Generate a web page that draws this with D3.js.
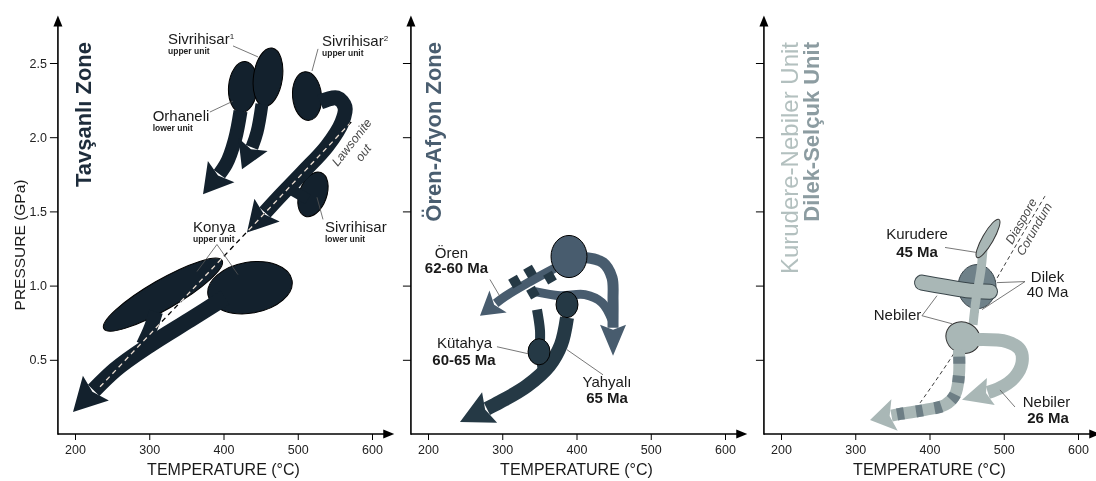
<!DOCTYPE html>
<html>
<head>
<meta charset="utf-8">
<title>P-T paths</title>
<script src="https://d3js.org/d3.v7.min.js"></script>
<style>
  html, body { margin:0; padding:0; background:#fff; }
  svg { display:block; font-family: "Liberation Sans", Arial, sans-serif; }
</style>
</head>
<body>
<svg id="chart"></svg>
<script>
var W = 1096, H = 481;

// axes
var tempTicks = [200, 300, 400, 500, 600];
var pressTicks = [0.5, 1.0, 1.5, 2.0, 2.5];
var tempMin = 177, tempMax = 630, pressMax = 2.82;
var titleTexts = ["Tavşanlı Zone", "Ören-Afyon Zone", "Kurudere-Nebiler Unit", "Dilek-Selçuk Unit"];

// P-T bodies: [key, T (°C), P (GPa), half-width (°C), half-height (GPa), tilt]
var tavsanliBodies = [
  ["orhaneli", 426.3, 2.338, 19.5, 0.172, 5],
  ["sivri1", 459.9, 2.405, 19.5, 0.198, 8],
  ["sivri2", 512.5, 2.277, 19.5, 0.164, -5],
  ["sivriLow", 520.5, 1.615, 18.5, 0.157, 20],
  ["konyaA", 318.5, 0.939, 92.0, 0.100, -30],
  ["konyaB", 435.7, 0.986, 57.5, 0.172, -10]
];
var orenBodies = [
  ["oren", 389.9, 1.196, 24.2, 0.142, 0],
  ["yahyali", 387.2, 0.872, 14.8, 0.088, 0],
  ["kutahya", 349.5, 0.554, 14.8, 0.088, 0]
];
var kurudereBodies = [
  ["dilek", 464.0, 0.993, 25.6, 0.149, 0],
  ["nebilerLow", 445.1, 0.649, 23.5, 0.104, 25],
  ["kurudere", 478.8, 1.318, 29.6, 0.037, -60]
];

// P-T paths: [key, [[T, P], ...]]
var tavsanliPaths = [
  ["orhaneliPath", [[422.9, 2.176], [415.5, 1.986], [403.4, 1.818], [372.4, 1.615]]],
  ["sivri1Path", [[451.8, 2.223], [445.1, 2.034], [435.7, 1.899], [424.9, 1.784]]],
  ["sivri2Path", [[530.0, 2.236], [552.9, 2.264], [563.6, 2.203], [559.6, 2.101], [539.4, 1.939], [507.1, 1.764], [472.0, 1.581], [431.6, 1.358]]],
  ["sivriLowPath", [[513.8, 1.581], [487.0, 1.660]]],
  ["konyaAPath", [[309.1, 0.824], [301.0, 0.703], [291.6, 0.601]]],
  ["konyaBPath", [[402.0, 0.919], [354.9, 0.770], [301.0, 0.601], [253.9, 0.432], [197.3, 0.149]]]
];
var lawsoniteOut = [[233.7, 0.318], [573.1, 2.108]];

var orenPaths = [
  ["orenLeft", [[372.4, 1.122], [337.4, 1.027], [303.7, 0.926], [270.0, 0.797]]],
  ["orenMid", [[344.1, 0.959], [377.8, 0.932], [411.4, 0.939], [434.3, 0.885], [447.8, 0.770]]],
  ["orenRight", [[411.4, 1.189], [435.7, 1.155], [447.8, 1.054], [449.2, 0.905], [449.2, 0.736], [449.2, 0.527]]],
  ["kutahyaPath", [[346.8, 0.838], [350.8, 0.700], [351.0, 0.550], [356.0, 0.400]]],
  ["yahyaliPath", [[387.2, 0.784], [379.1, 0.601], [363.0, 0.459], [333.3, 0.324], [297.0, 0.216], [243.1, 0.081]]]
];
var orenDashes = [[317.2, 1.027], [337.4, 1.095], [364.3, 1.054], [341.4, 0.953]];

var kurudereUpperPaths = [
  ["nebilerUp", [[389.9, 1.020], [420.9, 0.993], [454.5, 0.966], [481.5, 0.959]]],
  ["kurudereBand", [[472.0, 1.243], [469.4, 1.108], [462.6, 0.905], [458.6, 0.736]]]
];
var kurudereLowerPaths = [
  ["nebilerRight", [[457.2, 0.635], [504.4, 0.622], [521.9, 0.568], [524.6, 0.480], [515.1, 0.385], [494.9, 0.311], [443.8, 0.230]]],
  ["nebilerStriped", [[439.7, 0.568], [439.7, 0.399], [434.3, 0.264], [420.9, 0.196], [393.9, 0.162], [360.3, 0.135], [319.9, 0.095]]]
];
var diasporeCorundum = [[387.2, 0.209], [434.3, 0.554], [494.9, 1.085], [523.8, 1.334], [555.6, 1.604]];

// labels: [text, T, P, kind, anchor, superscript or rotation]
var tavsanliLabels = [
  ["Sivrihisar", 325.3, 2.628, "name", "start", "1"],
  ["upper unit", 325.3, 2.562, "unit", "start"],
  ["Orhaneli", 304.6, 2.108, "name", "start"],
  ["lower unit", 304.6, 2.042, "unit", "start"],
  ["Sivrihisar", 532.7, 2.615, "name", "start", "2"],
  ["upper unit", 532.7, 2.549, "unit", "start"],
  ["Sivrihisar", 536.7, 1.358, "name", "start"],
  ["lower unit", 536.7, 1.292, "unit", "start"],
  ["Konya", 358.9, 1.358, "name", "start"],
  ["upper unit", 358.9, 1.292, "unit", "start"],
  ["Lawsonite", 572.5, 1.966, "note", "middle", -52],
  ["out", 588.0, 1.895, "note", "middle", -52]
];
var orenLabels = [
  ["Ören", 231.6, 1.189, "name", "middle"],
  ["62-60 Ma", 238.4, 1.088, "age", "middle"],
  ["Kütahya", 249.2, 0.581, "name", "middle"],
  ["60-65 Ma", 248.5, 0.466, "age", "middle"],
  ["Yahyalı", 441.1, 0.318, "name", "middle"],
  ["65 Ma", 441.1, 0.209, "age", "middle"]
];
var kurudereLabels = [
  ["Kurudere", 383.2, 1.311, "name", "middle"],
  ["45 Ma", 383.2, 1.196, "age", "middle"],
  ["Dilek", 558.9, 1.027, "name", "middle"],
  ["40 Ma", 558.9, 0.926, "name", "middle"],
  ["Nebiler", 356.9, 0.770, "name", "middle"],
  ["Nebiler", 557.6, 0.182, "name", "middle"],
  ["26 Ma", 559.6, 0.074, "age", "middle"],
  ["Diaspore", 523.2, 1.435, "note", "middle", -60],
  ["Corundum", 540.7, 1.381, "note", "middle", -60]
];

// leader lines
var tavsanliLeaders = [
  [[412.8, 2.615], [446.5, 2.541]],
  [[381.5, 2.169], [412.8, 2.243]],
  [[527.3, 2.595], [519.2, 2.446]],
  [[534.0, 1.446], [525.9, 1.595]],
  [[364.3, 1.095], [391.2, 1.277], [419.5, 1.074]]
];
var orenLeaders = [
  [[283.5, 1.041], [297.0, 0.926]],
  [[292.9, 0.588], [334.7, 0.541]],
  [[387.2, 0.568], [435.7, 0.399]]
];
var kurudereLeaders = [
  [[420.9, 1.257], [464.0, 1.223]],
  [[490.9, 1.020], [528.6, 1.027], [470.7, 0.838]],
  [[410.1, 0.932], [389.9, 0.797], [430.3, 0.743]],
  [[515.1, 0.182], [494.9, 0.297]]
];

// ---------- styles ----------
var navy = "#13212d", slate = "#485c6e", deepSlate = "#253945",
    pale = "#a9b7b6", dilekGrey = "#6f8189", stripeGrey = "#6d7e85";

var bodyStyle = {
  orhaneli: {fill: navy}, sivri1: {fill: navy}, sivri2: {fill: navy}, sivriLow: {fill: navy},
  konyaA: {fill: navy}, konyaB: {fill: navy},
  oren: {fill: slate}, yahyali: {fill: deepSlate}, kutahya: {fill: deepSlate},
  dilek: {fill: dilekGrey, stroke: "#3a464c"}, nebilerLow: {fill: pale, stroke: "#333"},
  kurudere: {fill: pale, stroke: "#333"}
};
var pathStyle = {
  orhaneliPath: {color: navy, w: 14, head: [29, 17]},
  sivri1Path: {color: navy, w: 13, head: [27, 16]},
  sivri2Path: {color: navy, w: 15, head: [30, 17]},
  sivriLowPath: {color: navy, w: 11},
  konyaAPath: {color: navy, w: 14},
  konyaBPath: {color: navy, w: 16, head: [33, 18]},
  orenLeft: {color: slate, w: 9, head: [23, 14]},
  orenMid: {color: slate, w: 9},
  orenRight: {color: slate, w: 11, head: [31, 13]},
  kutahyaPath: {color: deepSlate, w: 10},
  yahyaliPath: {color: deepSlate, w: 14, head: [33, 17]},
  nebilerUp: {color: pale, w: 14, outline: "#39454a", cap: "round"},
  kurudereBand: {color: pale, w: 9},
  nebilerRight: {color: pale, w: 13, head: [30, 14]},
  nebilerStriped: {color: pale, w: 12, head: [25, 16], stripes: stripeGrey}
};
var labelStyle = {
  name: {size: 15, weight: "normal", fill: "#1a1a1a", style: "normal"},
  unit: {size: 8.5, weight: "bold", fill: "#222", style: "normal"},
  age: {size: 15, weight: "bold", fill: "#1a1a1a", style: "normal"},
  note: {size: 12.5, weight: "normal", fill: "#4a4a4a", style: "italic"}
};

// ---------- chart ----------
var svg = d3.select("#chart").attr("width", W).attr("height", H);
svg.append("rect").attr("width", W).attr("height", H).attr("fill", "#fff");

var panelLeft = [75, 428, 781];   // where 200 °C sits in each panel
var yScale = d3.scaleLinear().domain([0, 2.5]).range([434, 63]);

function makeX(i) {
  return d3.scaleLinear().domain([200, 600]).range([panelLeft[i], panelLeft[i] + 297]);
}
function curveLine(x) {
  return d3.line().x(function(d) { return x(d[0]); }).y(function(d) { return yScale(d[1]); })
    .curve(d3.curveCatmullRom.alpha(0.5));
}

function drawAxes(g, x, i) {
  var x0 = x(tempMin), y0 = yScale(0), yTop = yScale(pressMax), xTip = x(tempMax);
  g.append("line").attr("x1", x0).attr("y1", y0 + 0.75).attr("x2", x0).attr("y2", yTop + 8)
    .attr("stroke", "#000").attr("stroke-width", 1.6);
  g.append("path").attr("d", "M" + x0 + "," + yTop + "l-4.5,11h9z").attr("fill", "#000");
  g.append("line").attr("x1", x0).attr("y1", y0).attr("x2", xTip - 8).attr("y2", y0)
    .attr("stroke", "#000").attr("stroke-width", 1.6);
  g.append("path").attr("d", "M" + xTip + "," + y0 + "l-11,-4.5v9z").attr("fill", "#000");

  var ya = g.append("g").attr("transform", "translate(" + x0 + ",0)")
    .call(d3.axisLeft(yScale).tickValues(pressTicks).tickSize(8).tickPadding(3)
      .tickFormat(i === 0 ? d3.format(".1f") : function() { return ""; }));
  var xa = g.append("g").attr("transform", "translate(0," + y0 + ")")
    .call(d3.axisBottom(x).tickValues(tempTicks).tickSize(6).tickPadding(5.5));
  [ya, xa].forEach(function(a) {
    a.select(".domain").remove();
    a.selectAll("line").attr("stroke", "#000").attr("stroke-width", 1);
    a.selectAll("text").attr("font-family", "Liberation Sans, Arial, sans-serif")
      .attr("font-size", 12.5).attr("fill", "#222");
  });

  g.append("text").attr("x", x(400)).attr("y", 475).attr("text-anchor", "middle")
    .attr("font-size", 16).attr("fill", "#1a1a1a").text("TEMPERATURE (°C)");
}

function drawBodies(g, x, list) {
  list.forEach(function(b) {
    var st = bodyStyle[b[0]];
    var cx = x(b[1]), cy = yScale(b[2]);
    var rx = x(b[1] + b[3]) - cx, ry = cy - yScale(b[2] + b[4]);
    g.append("ellipse").attr("cx", cx).attr("cy", cy).attr("rx", rx).attr("ry", ry)
      .attr("transform", "rotate(" + b[5] + "," + cx + "," + cy + ")")
      .attr("fill", st.fill).attr("stroke", st.stroke || "#000").attr("stroke-width", 1);
  });
}

function drawPaths(g, x, list) {
  var line = curveLine(x);
  list.forEach(function(p) {
    var st = pathStyle[p[0]];
    if (st.outline) {
      g.append("path").attr("d", line(p[1])).attr("fill", "none").attr("stroke", st.outline)
        .attr("stroke-width", st.w + 2).attr("stroke-linecap", "round");
    }
    var path = g.append("path").attr("d", line(p[1])).attr("fill", "none")
      .attr("stroke", st.color).attr("stroke-width", st.w)
      .attr("stroke-linejoin", "round").attr("stroke-linecap", st.cap || "butt");
    if (!st.head) return;
    var node = path.node(), len = node.getTotalLength();
    var L = st.head[0], Wd = st.head[1];
    path.attr("stroke-dasharray", (len - L + 3) + " " + (len + 10));
    if (st.stripes) {
      var dash = [0, 7], pos = 7;
      while (pos + 7 < len - L) { dash.push(7, 12); pos += 19; }
      dash.push(0, len + 10);
      g.append("path").attr("d", line(p[1])).attr("fill", "none").attr("stroke", st.stripes)
        .attr("stroke-width", st.w).attr("stroke-dasharray", dash.join(" "));
    }
    var tip = node.getPointAtLength(len), base = node.getPointAtLength(len - L);
    var dx = tip.x - base.x, dy = tip.y - base.y, d = Math.hypot(dx, dy);
    var ux = dx / d, uy = dy / d;
    var bx = tip.x - ux * L, by = tip.y - uy * L;
    var w1 = [bx - uy * Wd, by + ux * Wd], w2 = [bx + uy * Wd, by - ux * Wd];
    var nt = [bx + ux * 5, by + uy * 5];
    g.append("path").attr("d", "M" + tip.x + "," + tip.y + "L" + w1 + "L" + nt + "L" + w2 + "Z")
      .attr("fill", st.color);
  });
}

function drawLeaders(g, x, list) {
  var line = d3.line().x(function(d) { return x(d[0]); }).y(function(d) { return yScale(d[1]); });
  list.forEach(function(l) {
    g.append("path").attr("d", line(l)).attr("fill", "none").attr("stroke", "#555").attr("stroke-width", 0.8);
  });
}

function drawLabels(g, x, list) {
  list.forEach(function(l) {
    var st = labelStyle[l[3]];
    var px = x(l[1]), py = yScale(l[2]);
    var t = g.append("text").attr("text-anchor", l[4])
      .attr("font-size", st.size).attr("font-weight", st.weight)
      .attr("font-style", st.style).attr("fill", st.fill);
    if (l[3] === "note") {
      t.attr("transform", "translate(" + px + "," + py + ") rotate(" + l[5] + ")")
        .attr("dy", "0.35em").text(l[0]);
    } else {
      t.attr("x", px).attr("y", py).text(l[0]);
      if (l[5]) t.append("tspan").attr("dy", -5).attr("font-size", 8).text(l[5]);
    }
  });
}

function drawTitle(g, xPos, text, size, weight, color) {
  g.append("text").attr("transform", "translate(" + xPos + ",42) rotate(-90)")
    .attr("text-anchor", "end").attr("font-size", size).attr("font-weight", weight)
    .attr("fill", color).text(text);
}

var panels = [0, 1, 2].map(function(i) {
  return {g: svg.append("g"), x: makeX(i)};
});
panels.forEach(function(p, i) { drawAxes(p.g, p.x, i); });

// y axis title (first panel only)
svg.append("text").attr("transform", "translate(25,245) rotate(-90)").attr("text-anchor", "middle")
  .attr("font-size", 15.5).attr("fill", "#1a1a1a").text("PRESSURE (GPa)");

// Tavşanlı Zone
var p1 = panels[0];
drawTitle(p1.g, p1.x(tempMin) + 33, titleTexts[0], 22, "bold", "#1d2c3b");
drawBodies(p1.g, p1.x, tavsanliBodies);
drawPaths(p1.g, p1.x, tavsanliPaths);
p1.g.append("path").attr("d", d3.line().x(function(d) { return p1.x(d[0]); }).y(function(d) { return yScale(d[1]); })(lawsoniteOut))
  .attr("fill", "none").attr("stroke", "#fff").attr("stroke-width", 1.3)
  .attr("stroke-dasharray", "5 4").style("mix-blend-mode", "difference");
drawLeaders(p1.g, p1.x, tavsanliLeaders);
drawLabels(p1.g, p1.x, tavsanliLabels);

// Ören-Afyon Zone
var p2 = panels[1];
drawTitle(p2.g, p2.x(tempMin) + 30, titleTexts[1], 22, "bold", "#4a5e70");
drawPaths(p2.g, p2.x, orenPaths);
orenDashes.forEach(function(d) {
  var cx = p2.x(d[0]), cy = yScale(d[1]);
  p2.g.append("rect").attr("x", cx - 5).attr("y", cy - 5).attr("width", 10).attr("height", 10)
    .attr("transform", "rotate(-30," + cx + "," + cy + ")").attr("fill", deepSlate);
});
drawBodies(p2.g, p2.x, orenBodies);
drawLeaders(p2.g, p2.x, orenLeaders);
drawLabels(p2.g, p2.x, orenLabels);

// Kurudere-Nebiler / Dilek-Selçuk Units
var p3 = panels[2];
drawTitle(p3.g, p3.x(tempMin) + 34, titleTexts[2], 24, "normal", "#b3c0bf");
drawTitle(p3.g, p3.x(tempMin) + 55, titleTexts[3], 22, "bold", "#8c9ca1");
p3.g.append("path").attr("d", curveLine(p3.x)(diasporeCorundum)).attr("fill", "none")
  .attr("stroke", "#222").attr("stroke-width", 0.9).attr("stroke-dasharray", "4 3");
drawBodies(p3.g, p3.x, kurudereBodies.slice(0, 1));
drawPaths(p3.g, p3.x, kurudereUpperPaths);
drawBodies(p3.g, p3.x, kurudereBodies.slice(1, 2));
drawPaths(p3.g, p3.x, kurudereLowerPaths);
drawBodies(p3.g, p3.x, kurudereBodies.slice(2));
drawLeaders(p3.g, p3.x, kurudereLeaders);
drawLabels(p3.g, p3.x, kurudereLabels);
</script>
</body>
</html>
